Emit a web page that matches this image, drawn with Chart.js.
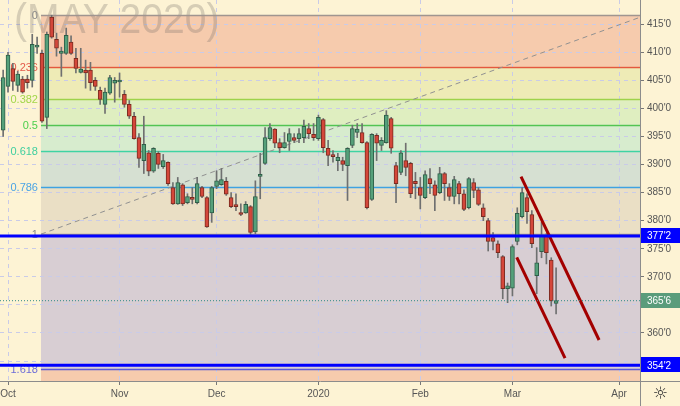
<!DOCTYPE html>
<html><head><meta charset="utf-8">
<script src="https://cdn.jsdelivr.net/npm/chart.js@4.4.0/dist/chart.umd.min.js"></script>
<style>html,body{margin:0;padding:0;background:#fdf3d4;overflow:hidden}canvas{display:block}</style>
</head><body>
<canvas id="c" width="680" height="406"></canvas>
<script>
// ---------------- DATA ----------------
const watermark = '(MAY 2020)';
const firstSession = -1; // session index of first candle (0 = 1 Oct 2019)
const opens  = [396.1,403.9,407.1,404.1,405.2,405.2,405.0,410.9,409.8,398.4,416.25,412.3,409.8,409.8,411.8,408.9,406.4,406.8,406.8,405.0,403.2,400.7,402.7,404.5,404.7,402.5,400.7,398.6,394.8,390.7,392.1,388.8,392.0,389.6,390.4,385.9,383.0,386.4,383.2,384.1,383.2,385.9,384.1,381.4,386.1,386.4,387.0,384.1,382.6,381.4,381.4,382.5,378.0,387.9,390.2,394.6,396.3,393.9,393.0,394.1,394.8,394.6,394.8,396.4,395.4,394.6,398.0,392.9,391.6,390.7,390.7,389.8,393.4,395.7,395.7,393.9,383.8,395.2,393.4,393.9,398.2,389.8,388.6,390.7,390.2,387.0,385.9,384.1,387.5,386.4,385.0,388.4,385.9,384.3,386.6,384.8,382.3,386.8,385.5,382.3,380.0,377.0,375.9,373.6,367.9,368.0,376.3,380.7,384.1,381.1,370.2,374.5,377.2,373.0,365.25];
const highs  = [406.8,410.0,408.0,406.6,405.7,405.9,413.2,412.7,410.4,413.6,416.6,413.4,410.9,414.3,412.9,410.7,410.7,408.6,408.2,405.5,403.8,403.6,405.9,405.5,406.3,403.2,401.4,399.3,395.5,398.6,392.5,393.0,392.3,391.8,390.5,386.8,387.7,386.6,384.8,385.9,387.7,386.1,384.3,386.1,388.9,389.3,387.7,385.0,384.8,383.0,383.4,382.7,387.1,392.0,396.6,397.3,396.4,394.6,395.7,396.4,395.5,396.4,397.9,397.3,397.3,398.8,398.2,394.3,392.5,392.0,391.3,393.0,397.0,397.3,397.3,394.1,395.5,395.5,394.8,399.6,398.4,390.4,392.5,393.8,390.4,388.6,387.7,388.9,389.3,387.1,389.5,388.6,386.6,387.9,387.0,385.5,387.7,387.5,385.9,383.0,380.4,377.9,376.4,373.8,368.9,375.7,382.3,385.9,384.8,381.8,375.2,379.7,377.7,373.4,371.6];
const lows   = [395.0,402.9,403.2,403.0,402.7,403.6,403.8,409.8,397.5,396.4,412.5,409.3,405.7,409.6,409.6,406.3,406.3,403.6,403.2,403.2,400.7,399.1,402.5,401.1,402.0,400.2,398.2,394.5,389.5,388.4,388.0,388.6,389.3,389.3,386.3,382.9,382.9,382.7,383.0,383.0,383.0,384.1,378.8,379.7,385.7,386.3,384.5,382.3,381.8,380.9,381.3,377.25,377.7,383.9,390.0,394.3,393.0,392.1,392.9,392.5,393.9,393.9,393.9,394.6,394.3,394.3,392.1,389.8,390.4,388.9,388.9,383.6,393.0,394.8,393.8,382.1,383.6,390.7,392.5,393.8,392.0,383.2,388.2,388.0,384.1,383.9,382.1,383.9,384.8,381.8,384.8,383.6,383.6,383.0,383.0,381.8,382.1,384.1,382.7,380.0,374.6,374.8,373.4,366.1,365.4,366.6,375.7,380.5,379.5,375.2,367.0,373.4,372.3,364.8,363.4];
const closes = [405.5,409.5,404.8,406.1,402.9,404.6,411.4,411.0,397.7,413.2,412.7,410.7,410.2,413.0,409.8,407.1,407.0,406.3,404.6,403.9,401.6,402.9,405.5,405.0,404.8,400.7,398.6,394.6,391.1,393.6,388.8,392.9,390.0,390.7,386.6,383.0,386.8,383.0,384.3,383.8,386.6,384.3,378.9,385.9,387.1,387.3,384.7,382.5,382.5,381.1,382.9,377.9,384.3,388.0,394.8,396.6,393.8,393.0,393.9,395.5,394.3,395.5,396.8,395.5,394.8,398.4,393.0,391.6,391.4,391.3,390.0,392.9,396.4,396.3,393.9,382.3,395.4,393.8,394.3,398.8,392.9,386.6,392.1,389.5,384.8,386.6,384.5,388.2,386.6,384.5,388.4,386.6,384.3,387.3,384.8,382.0,387.5,385.4,382.9,380.7,376.3,376.3,374.3,367.9,368.4,375.4,381.3,385.0,381.6,375.9,372.5,377.2,374.3,365.7,365.75];
const monthTickIndex  = [0, 23, 43, 64, 85, 104, 126];
const monthTickLabels = ['Oct', 'Nov', 'Dec', '2020', 'Feb', 'Mar', 'Apr'];
const priceTicks = [355, 360, 365, 370, 375, 380, 385, 390, 395, 400, 405, 410, 415];
const fibHigh = 416.6, fibLow = 377.6;
const fibStartIndex = 6.8, fibEndIndex = 131.5;
const fibRatios = [0, 0.236, 0.382, 0.5, 0.618, 0.786, 1, 1.618, 2.618];
const fibLabels = ['0', '0.236', '0.382', '0.5', '0.618', '0.786', '1', '1.618'];
const markedLevels = [377.25, 354.25];
const channelUpper = [{x: 105.77, y: 387.83}, {x: 121.86, y: 358.75}];
const channelLower = [{x: 104.89, y: 373.48}, {x: 114.84, y: 355.54}];
const xRange = [-1.65, 130.3];
const yRange = [351.45, 419.3];

// ---------------- STYLE ----------------
const FONT = "'Liberation Sans', Arial, sans-serif";
const bandColors = ['#f6cbad', '#eeebb6', '#dfeec0', '#d7ecce', '#d6e0d2', '#eadfc5', '#d8ced3', '#f6cbad'];
const lineColors = ['#a09590', '#e4583e', '#9fd24a', '#52c452', '#3fd3a3', '#3ea2e2', '#a09590', '#5a5ad8'];
const labelColors = ['#8a8a8a', '#e45a4a', '#a2d64a', '#4ccf4c', '#3fcf9f', '#4aa4e4', '#888888', '#6c6cd8'];
const upFill = '#55a07a', upBorder = '#2f5e48';
const dnFill = '#d4473a', dnBorder = '#7a2b20';
const wickColor = '#6f7070';

const fmt = v => { const w = Math.floor(v + 1e-9); return w + "'" + Math.round((v - w) * 8); };
const fibValue = r => fibHigh - r * (fibHigh - fibLow);
const lastClose = closes[closes.length - 1];

const wickData = [], bodyData = [], bodyFill = [], bodyBorder = [];
for (let k = 0; k < opens.length; k++) {
  const x = firstSession + k;
  wickData.push({x, y: [lows[k], highs[k]]});
  bodyData.push({x, y: [Math.min(opens[k], closes[k]), Math.max(opens[k], closes[k])]});
  const up = closes[k] >= opens[k];
  bodyFill.push(up ? upFill : dnFill);
  bodyBorder.push(up ? upBorder : dnBorder);
}

const bgPlugin = {
  id: 'fibBg',
  beforeDraw(chart) {
    const {ctx, scales: {x, y}, chartArea: a} = chart;
    ctx.save();
    ctx.fillStyle = '#fdf3d4';
    ctx.fillRect(0, 0, chart.width, chart.height);
    ctx.beginPath(); ctx.rect(a.left, a.top, a.right - a.left, a.bottom - a.top); ctx.clip();
    const x0 = x.getPixelForValue(fibStartIndex);
    for (let k = 0; k < fibRatios.length - 1; k++) {
      const y1 = y.getPixelForValue(fibValue(fibRatios[k]));
      const y2 = y.getPixelForValue(fibValue(fibRatios[k + 1]));
      ctx.fillStyle = bandColors[k];
      ctx.fillRect(x0, y1, a.right - x0, y2 - y1);
    }
    ctx.restore();
  },
  beforeDatasetsDraw(chart) {
    const {ctx, scales: {x, y}, chartArea: a} = chart;
    ctx.save();
    ctx.beginPath(); ctx.rect(a.left, a.top, a.right - a.left, a.bottom - a.top); ctx.clip();
    // watermark
    ctx.save();
    ctx.translate(14, 33);
    ctx.scale(0.93, 1);
    ctx.font = '42px ' + FONT;
    ctx.fillStyle = 'rgba(110,105,100,0.27)';
    ctx.textBaseline = 'alphabetic';
    ctx.fillText(watermark, 0, 0);
    ctx.restore();
    const x0 = x.getPixelForValue(fibStartIndex);
    for (let k = 0; k < fibLabels.length; k++) {
      const yy = Math.round(y.getPixelForValue(fibValue(fibRatios[k]))) + 0.5;
      ctx.strokeStyle = lineColors[k];
      ctx.lineWidth = 1.5;
      ctx.beginPath(); ctx.moveTo(x0, yy); ctx.lineTo(a.right, yy); ctx.stroke();
      ctx.font = '11px ' + FONT;
      ctx.fillStyle = labelColors[k];
      ctx.textAlign = 'right'; ctx.textBaseline = 'middle';
      ctx.fillText(fibLabels[k], x0 - 3, yy);
    }
    ctx.restore();
  },
  afterDraw(chart) {
    const {ctx, scales: {y}, chartArea: a} = chart;
    ctx.save();
    ctx.strokeStyle = '#8c8c8c'; ctx.lineWidth = 1;
    ctx.beginPath();
    ctx.moveTo(a.right, a.bottom + 0.5); ctx.lineTo(chart.width, a.bottom + 0.5);
    ctx.moveTo(a.right + 0.5, a.bottom); ctx.lineTo(a.right + 0.5, chart.height);
    ctx.stroke();
    const boxes = [
      {v: markedLevels[0], c: '#0000ff'},
      {v: lastClose, c: '#5a9c7b'},
      {v: markedLevels[1], c: '#0000ff'}
    ];
    ctx.font = '10px ' + FONT;
    ctx.textAlign = 'left'; ctx.textBaseline = 'middle';
    boxes.forEach(b => {
      const yy = y.getPixelForValue(b.v);
      ctx.fillStyle = b.c;
      ctx.fillRect(a.right + 1, Math.round(yy) - 8, chart.width - a.right - 1, 15);
      ctx.fillStyle = '#ffffff';
      ctx.fillText(fmt(b.v), a.right + 7, yy + 0.5);
    });
    // settings glyph
    ctx.fillStyle = '#333';
    ctx.font = "17px 'DejaVu Sans'";
    ctx.textAlign = 'center';
    ctx.fillText('\u263C', (a.right + chart.width) / 2 + 0.5, (a.bottom + chart.height) / 2 + 1);
    ctx.restore();
  }
};

const hLine = (v, color, width, dash) => ({
  type: 'line', data: [{x: xRange[0], y: v}, {x: xRange[1], y: v}],
  borderColor: color, borderWidth: width, borderDash: dash || [], pointRadius: 0, order: 0
});

new Chart(document.getElementById('c'), {
  type: 'bar',
  data: {
    datasets: [
      {type: 'line', data: [{x: fibStartIndex, y: fibLow}, {x: fibEndIndex, y: fibHigh}],
       borderColor: '#919191', borderWidth: 1, borderDash: [5, 4], pointRadius: 0, order: 5},
      hLine(lastClose, '#2f8a86', 1, [1, 2]),
      {data: wickData, backgroundColor: wickColor, borderWidth: 0, barThickness: 1, grouped: false, order: 4},
      {data: bodyData, backgroundColor: bodyFill, borderColor: bodyBorder, borderWidth: 1,
       borderSkipped: false, barThickness: 4, minBarLength: 2, grouped: false, order: 3},
      hLine(markedLevels[0], '#0000ff', 3),
      hLine(markedLevels[1], '#0000ff', 3),
      {type: 'line', data: channelUpper, borderColor: '#a30000', borderWidth: 3, pointRadius: 0, order: 0},
      {type: 'line', data: channelLower, borderColor: '#a30000', borderWidth: 3, pointRadius: 0, order: 0}
    ]
  },
  options: {
    responsive: false, animation: false, events: [],
    layout: {padding: 0},
    plugins: {legend: {display: false}, tooltip: {enabled: false}},
    scales: {
      x: {
        type: 'linear', position: 'bottom', min: xRange[0], max: xRange[1], offset: false,
        afterBuildTicks: s => { s.ticks = monthTickIndex.map(v => ({value: v})); },
        afterFit: s => { s.height = 25; s.paddingLeft = 0; s.paddingRight = 0; },
        grid: {offset: false, color: '#c9cbe8', lineWidth: 1, drawTicks: true, tickLength: 4, tickColor: '#777', tickWidth: 1},
        border: {display: true, color: '#8c8c8c', width: 1, dash: [4, 4]},
        ticks: {autoSkip: false, maxRotation: 0, padding: 3, color: '#555', font: {family: FONT, size: 10},
          callback: v => { const i = monthTickIndex.indexOf(v); return i >= 0 ? monthTickLabels[i] : ''; }}
      },
      y: {
        type: 'linear', position: 'right', min: yRange[0], max: yRange[1],
        afterBuildTicks: s => { s.ticks = priceTicks.map(v => ({value: v})); },
        afterFit: s => { s.width = 40; s.paddingTop = 0; s.paddingBottom = 0; },
        grid: {color: '#c9cbe8', lineWidth: 1, drawTicks: true, tickLength: 4, tickColor: '#777', tickWidth: 1},
        border: {display: true, color: '#8c8c8c', width: 1, dash: [4, 4]},
        ticks: {padding: 3, color: '#555', font: {family: FONT, size: 10},
          callback: v => (Math.abs(v - markedLevels[1]) < 1 ? '' : fmt(v))}
      }
    }
  },
  plugins: [bgPlugin]
});
</script>
</body></html>
